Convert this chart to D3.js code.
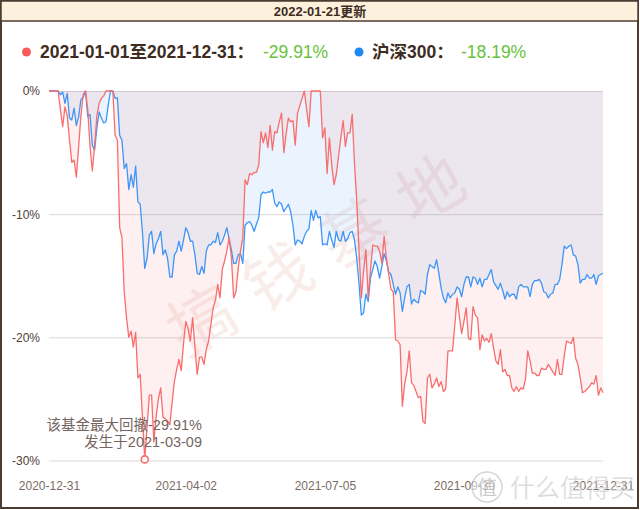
<!DOCTYPE html>
<html><head><meta charset="utf-8">
<script src="https://cdn.jsdelivr.net/npm/d3@7"></script>
<style>
html,body{margin:0;padding:0;background:#fff;}
svg{display:block;font-family:"Liberation Sans","Noto Sans CJK SC",sans-serif;}
</style></head>
<body><svg id="c" width="640" height="510"></svg>
<script>
const updateLabel = "2022-01-21更新";
const seriesNames = ["2021-01-01至2021-12-31：", "沪深300："];
const seriesTotals = ["-29.91%", "-18.19%"];
const tickIdx = [0, 60, 121, 182, 243];
const tickLabels = ["2020-12-31", "2021-04-02", "2021-07-05", "2021-09-30", "2021-12-31"];
const yTicks = [0, -10, -20, -30];
const maxDD = {index: 42, value: -29.91, date: "2021-03-09"};

const fundValues = [
0,0,0,0,0,-1.5,-2.9,-1.3,-2.0,-4.0,
-5.8,-5.6,-7.0,-4.5,-2.0,-0.3,0,-1.5,-4.5,-6.5,
-4.5,-2.0,-1.0,-0.6,-0.4,0,0,0,0,-3.6,
-4.0,-11.1,-11.9,-16.3,-18.4,-20.0,-19.5,-20.8,-19.6,-23.3,
-23.0,-26.5,-29.91,-27.3,-24.7,-24.7,-28.5,-26.4,-25.0,-24.1,
-26.5,-26.6,-26.8,-27.1,-25.3,-23.6,-22.6,-21.8,-22.7,-20.5,
-18.7,-19.3,-20.3,-18.4,-20.8,-23.0,-21.6,-21.6,-22.2,-21.0,
-20.3,-19.0,-17.6,-17.0,-15.7,-16.8,-14.5,-13.8,-13.0,-11.9,
-13.5,-16.8,-16.3,-14.4,-13.0,-11.9,-7.2,-7.6,-6.7,-6.8,
-6.6,-6.6,-6.0,-3.3,-4.2,-3.4,-4.6,-2.8,-4.8,-3.3,
-3.4,-2.5,-1.8,-5.0,-3.5,-2.2,-2.5,-2.4,-4.4,-1.8,
-1.2,-0.6,0,-1.5,-2.9,0,0,0,0,0,
-3.8,-3.0,-6.7,-3.8,-6.0,-7.6,-6.8,-5.3,-3.8,-2.4,
-4.5,-3.4,-3.4,-1.9,-5.9,-9.0,-13.0,-16.8,-14.6,-12.9,
-16.8,-14.6,-12.5,-12.6,-12.6,-13.0,-14.0,-11.8,-13.6,-14.9,
-16.1,-16.3,-20.2,-20.3,-20.6,-25.6,-23.8,-22.8,-21.1,-23.7,
-23.9,-24.4,-24.9,-24.8,-26.8,-27.0,-23.3,-23.0,-24.1,-23.8,
-23.3,-24.0,-23.6,-24.4,-24.2,-21.1,-21.1,-21.1,-19.0,-16.8,
-18.3,-19.7,-18.7,-17.6,-20.1,-20.2,-17.5,-18.2,-18.4,-21.0,
-19.8,-20.3,-20.1,-20.4,-19.7,-20.9,-21.9,-22.2,-21.0,-22.8,
-22.6,-23.1,-23.1,-24.1,-24.4,-24.0,-24.4,-24.1,-24.2,-23.4,
-21.1,-21.9,-22.9,-22.9,-23.1,-23.1,-22.5,-22.6,-22.6,-22.2,
-22.5,-22.8,-23.1,-21.8,-23.0,-23.0,-21.5,-20.3,-20.4,-20.5,
-20.0,-21.7,-22.2,-23.3,-24.5,-24.4,-24.2,-24.0,-23.7,-23.8,
-23.1,-24.7,-24.1,-24.5
];

const indexValues = [
0,0,0,0,0,-0.3,-0.1,-1.0,-0.2,-2.2,
-2.35,-1.4,-2.8,-2.1,-0.7,-0.5,0,-2.1,-1.9,-4.4,
-4.8,-3.0,-1.7,-2.2,-2.6,-2.5,-1.1,0,0,-0.6,
-0.55,-3.6,-4.0,-6.3,-5.9,-8.0,-6.8,-7.8,-6.1,-9.0,
-9.2,-11.5,-14.4,-13.6,-11.7,-11.4,-13.2,-12.4,-12.0,-11.4,
-13.3,-12.9,-13.6,-15.1,-15.1,-13.3,-13.0,-12.2,-13.0,-12.1,
-11.1,-11.5,-12.2,-12.2,-13.3,-14.8,-14.9,-14.25,-14.8,-13.0,
-12.5,-12.5,-12.2,-12.3,-11.5,-12.5,-12.2,-11.7,-11.1,-12.0,
-12.9,-14.0,-14.0,-13.3,-13.2,-14.0,-10.9,-10.7,-10.6,-10.9,
-11.4,-10.8,-10.3,-8.4,-8.2,-8.3,-8.2,-8.2,-8.0,-9.1,
-9.4,-9.0,-9.2,-9.8,-9.5,-9.2,-9.8,-10.9,-12.5,-12.1,
-12.2,-12.4,-11.8,-11.4,-11.2,-9.7,-10.5,-9.7,-10.3,-10.2,
-12.5,-12.4,-12.5,-11.4,-12.1,-12.7,-11.4,-12.1,-12.2,-11.4,
-12.2,-12.0,-11.5,-11.4,-12.1,-13.6,-15.7,-18.2,-18.0,-16.5,
-17.1,-15.2,-14.5,-13.8,-14.25,-15.2,-14.25,-13.2,-13.8,-14.7,
-14.9,-15.7,-16.5,-15.9,-16.4,-17.9,-16.8,-15.9,-15.7,-17.3,
-16.9,-17.1,-17.2,-16.2,-16.3,-16.5,-14.9,-14.1,-14.25,-14.4,
-13.7,-14.8,-16.0,-16.8,-17.2,-16.4,-16.8,-16.5,-16.4,-15.9,
-16.1,-16.7,-15.7,-15.1,-15.1,-15.9,-15.1,-15.2,-15.7,-15.2,
-15.9,-15.3,-15.3,-14.9,-14.5,-15.5,-15.8,-16.1,-15.6,-16.2,
-16.9,-16.3,-16.7,-16.5,-16.5,-16.9,-15.9,-15.7,-15.9,-15.9,
-15.9,-16.7,-15.7,-15.4,-15.4,-15.3,-15.6,-16.3,-16.4,-16.8,
-16.5,-16.4,-15.7,-15.7,-15.3,-14.1,-12.6,-12.8,-12.6,-12.5,
-13.3,-13.4,-14.1,-15.6,-15.3,-15.3,-14.9,-15.2,-15.2,-14.9,
-15.7,-15.0,-14.9,-14.8
];

const svg = d3.select("#c");
const M = {left: 49, right: 603, top: 91, bottom: 460.5};
const x = d3.scaleLinear().domain([0, fundValues.length - 1]).range([M.left, M.right]);
const y = d3.scaleLinear().domain([-30, 0]).range([M.bottom, M.top]);

const RED = "#f86d6d", BLUE = "#3d96f7";

// frame + header
svg.append("rect").attr("x", 1).attr("y", 1).attr("width", 637).attr("height", 507)
  .attr("fill", "#fff").attr("stroke", "#4e3b30").attr("stroke-width", 2);
svg.append("rect").attr("x", 1).attr("y", 1).attr("width", 637).attr("height", 20)
  .attr("fill", "#fdf1de").attr("stroke", "#4e3b30").attr("stroke-width", 1.5);
svg.append("text").attr("x", 320).attr("y", 15.5).attr("text-anchor", "middle")
  .attr("font-size", 13).attr("font-weight", "bold").attr("fill", "#3e2c22").text(updateLabel);

// watermark
const wm = svg.append("g").attr("transform", "translate(326,250) rotate(-30)");
wm.append("text").attr("text-anchor", "middle").attr("dy", "0.35em")
  .attr("font-family", "'Noto Sans CJK SC'").attr("font-size", 66)
  .attr("letter-spacing", "22px").attr("fill", "rgba(215,140,125,0.16)").text("搞钱基地");

// grid + y axis
const yAxis = d3.axisLeft(y).tickValues(yTicks).tickSize(-(M.right - M.left))
  .tickFormat(d => d + "%").tickPadding(9);
const gy = svg.append("g").attr("transform", `translate(${M.left},0)`).call(yAxis);
gy.select(".domain").remove();
gy.selectAll("line").attr("stroke", "#dcd7d7").attr("stroke-width", 1);
gy.selectAll("text").attr("font-size", 12).attr("fill", "#4f4039")
  .attr("font-family", "'Liberation Sans',sans-serif");

// areas + lines
const area = d3.area().x((d, i) => x(i)).y0(y(0)).y1(d => y(d));
const line = d3.line().x((d, i) => x(i)).y(d => y(d));
svg.append("path").datum(indexValues).attr("d", area).attr("fill", BLUE).attr("fill-opacity", 0.1);
svg.append("path").datum(fundValues).attr("d", area).attr("fill", RED).attr("fill-opacity", 0.1);
svg.append("path").datum(indexValues).attr("d", line).attr("fill", "none")
  .attr("stroke", BLUE).attr("stroke-width", 1.3).attr("stroke-linejoin", "round");
svg.append("path").datum(fundValues).attr("d", line).attr("fill", "none")
  .attr("stroke", RED).attr("stroke-width", 1.3).attr("stroke-linejoin", "round");

// x axis
const xAxis = d3.axisBottom(x).tickValues(tickIdx).tickSize(0).tickPadding(21)
  .tickFormat((d, i) => tickLabels[i]);
const gx = svg.append("g").attr("transform", `translate(0,${M.bottom})`).call(xAxis);
gx.select(".domain").remove();
gx.selectAll("text").attr("font-size", 12).attr("fill", "#7a6b64")
  .attr("font-family", "'Liberation Sans',sans-serif");

// max drawdown annotation
svg.append("circle").attr("cx", x(maxDD.index)).attr("cy", y(maxDD.value)).attr("r", 3.5)
  .attr("fill", "#fff").attr("stroke", RED).attr("stroke-width", 1.6);
const ann = svg.append("g").attr("font-size", 14.5).attr("fill", "#74665f").attr("text-anchor", "end");
ann.append("text").attr("x", 202).attr("y", 430).text("该基金最大回撤" + maxDD.value + "%");
ann.append("text").attr("x", 202).attr("y", 447).text("发生于" + maxDD.date);

// legend
const lg = svg.append("g").attr("font-size", 17.5).attr("font-weight", "bold");
lg.append("circle").attr("cx", 26.5).attr("cy", 52).attr("r", 4.5).attr("fill", "#f85a5a");
lg.append("text").attr("x", 40).attr("y", 58).attr("fill", "#3e2c22").text(seriesNames[0]);
lg.append("text").attr("x", 263).attr("y", 58).attr("fill", "#67c23a").attr("font-weight", "normal").text(seriesTotals[0]);
lg.append("circle").attr("cx", 359).attr("cy", 52).attr("r", 4.5).attr("fill", "#1e88f5");
lg.append("text").attr("x", 372).attr("y", 58).attr("fill", "#3e2c22").text(seriesNames[1]);
lg.append("text").attr("x", 461).attr("y", 58).attr("fill", "#67c23a").attr("font-weight", "normal").text(seriesTotals[1]);

// site watermark
const sw = svg.append("g");
sw.append("circle").attr("cx", 487).attr("cy", 487).attr("r", 15)
  .attr("fill", "rgba(255,255,255,0.55)").attr("stroke", "rgba(180,180,180,0.55)").attr("stroke-width", 1.5);
sw.append("text").attr("x", 487).attr("y", 495).attr("text-anchor", "middle").attr("font-size", 20)
  .attr("fill", "rgba(160,160,160,0.55)").text("值");
sw.append("text").attr("x", 510).attr("y", 497).attr("font-size", 25)
  .attr("fill", "rgba(180,180,180,0.5)").attr("stroke", "rgba(255,255,255,0.5)").attr("stroke-width", 0.6)
  .text("什么值得买");
</script></body></html>
